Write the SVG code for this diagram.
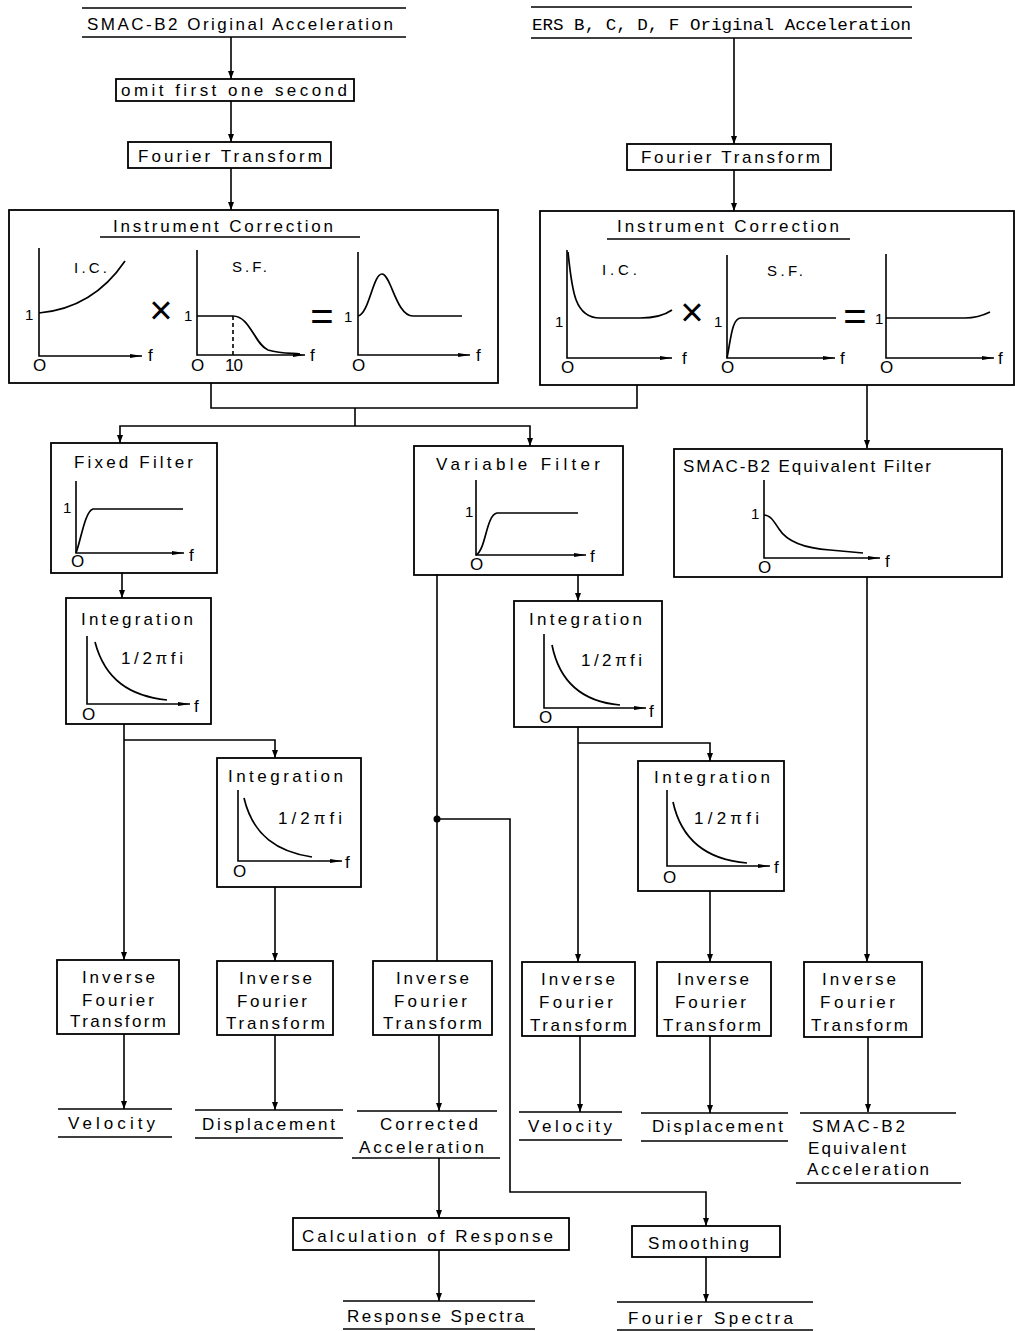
<svg xmlns="http://www.w3.org/2000/svg" width="1015" height="1331" viewBox="0 0 1015 1331">
<defs>
<marker id="arr" markerUnits="userSpaceOnUse" markerWidth="8" markerHeight="7" refX="8" refY="3.5" orient="auto"><path d="M0,0.5 L8,3.5 L0,6.5 z" fill="#000"/></marker>
<marker id="ax" markerUnits="userSpaceOnUse" markerWidth="12" markerHeight="6" refX="12" refY="3" orient="auto"><path d="M0,1 L12,3 L0,5 z" fill="#000"/></marker>
</defs>
<style>
text{font-family:"Liberation Sans",Arial,sans-serif;font-size:17px;fill:#000}
.m{font-family:"Liberation Mono","DejaVu Sans Mono",monospace;font-size:17px}
.s{font-size:15px}
.op{font-size:40px;font-weight:300}
.box{fill:none;stroke:#000;stroke-width:1.8}
.ln{fill:none;stroke:#000;stroke-width:1.6}
.ax{fill:none;stroke:#000;stroke-width:1.6;marker-end:url(#ax)}
.cv{fill:none;stroke:#000;stroke-width:1.7}
.c{fill:none;stroke:#000;stroke-width:1.6}
.ca{fill:none;stroke:#000;stroke-width:1.6;marker-end:url(#arr)}
</style>
<rect width="1015" height="1331" fill="#fff"/>

<g id="connectors">
<path class="ca" d="M231,37 V79"/>
<path class="ca" d="M231,101 V142"/>
<path class="ca" d="M231,168 V210"/>
<path class="ca" d="M734,38 V144"/>
<path class="ca" d="M734,170 V211"/>
<path class="c" d="M211,383 V408 H637 V385"/>
<path class="c" d="M355,408 V426"/>
<path class="ca" d="M355,426 H120 V443"/>
<path class="ca" d="M355,426 H530 V446"/>
<path class="ca" d="M867,385 V448"/>
<path class="ca" d="M122,573 V598"/>
<path class="ca" d="M124,724 V960"/>
<path class="ca" d="M124,740 H275 V758"/>
<path class="ca" d="M275,887 V961"/>
<path class="ca" d="M124,1034 V1109"/>
<path class="ca" d="M275,1035 V1110"/>
<path class="c" d="M437,574 V961"/>
<circle cx="437" cy="819" r="3.5" fill="#000"/>
<path class="ca" d="M437,819 H510 V1192 H706 V1226"/>
<path class="ca" d="M439,1035 V1111"/>
<path class="ca" d="M439,1158 V1218"/>
<path class="ca" d="M439,1250 V1301"/>
<path class="ca" d="M706,1257 V1302"/>
<path class="ca" d="M578,575 V601"/>
<path class="ca" d="M578,727 V962"/>
<path class="ca" d="M578,743 H710 V761"/>
<path class="ca" d="M710,891 V962"/>
<path class="ca" d="M867,577 V962"/>
<path class="ca" d="M580,1036 V1112"/>
<path class="ca" d="M710,1036 V1113"/>
<path class="ca" d="M868,1037 V1112"/>
</g>

<g id="n-smac-src">
<path class="ln" d="M82,8 H406 M82,37 H406"/>
<text x="87" y="30" textLength="306" lengthAdjust="spacing">SMAC-B2 Original Acceleration</text>
</g>
<g id="n-ers-src">
<path class="ln" d="M531,7 H912 M531,38 H912"/>
<text class="m" x="532" y="30" textLength="379" lengthAdjust="spacingAndGlyphs">ERS B, C, D, F Original Acceleration</text>
</g>
<g id="n-omit">
<rect class="box" x="116" y="79" width="238" height="22"/>
<text x="121" y="96" textLength="226" lengthAdjust="spacing">omit first one second</text>
</g>
<g id="n-ft-left">
<rect class="box" x="128" y="142" width="203" height="26"/>
<text x="138" y="162" textLength="184" lengthAdjust="spacing">Fourier Transform</text>
</g>
<g id="n-ft-right">
<rect class="box" x="627" y="144" width="204" height="26"/>
<text x="641" y="163" textLength="179" lengthAdjust="spacing">Fourier Transform</text>
</g>

<g id="n-ic-left">
<rect class="box" x="9" y="210" width="489" height="173"/>
<text x="113" y="232" textLength="220" lengthAdjust="spacing">Instrument Correction</text>
<path class="ln" d="M100,237 H360"/>
<path class="ax" d="M39,248 V356 H142"/>
<text x="148" y="361">f</text><text x="33" y="371">O</text><text class="s" x="25" y="320">1</text>
<path class="cv" d="M39,313 C72,310 102,295 125,261"/>
<text class="s" x="74" y="273" textLength="33" lengthAdjust="spacing">I.C.</text>
<text class="op" x="161" y="324" text-anchor="middle">×</text>
<path class="ax" d="M197,250 V355 H305"/>
<text x="310" y="361">f</text><text x="191" y="371">O</text><text x="225" y="371" textLength="18" lengthAdjust="spacing">10</text><text class="s" x="184" y="321">1</text>
<path class="cv" d="M197,316 H233 C250,316 255,345 268,350 C282,354 292,353 300,354"/>
<path class="ln" d="M233,316 V355" stroke-dasharray="4,3"/>
<text class="s" x="232" y="272" textLength="35" lengthAdjust="spacing">S.F.</text>
<text class="op" x="322" y="330" text-anchor="middle">=</text>
<path class="ax" d="M358,252 V355 H470"/>
<text x="476" y="361">f</text><text x="352" y="371">O</text><text class="s" x="344" y="322">1</text>
<path class="cv" d="M358,316 C369,314 373,274 382,274 C391,274 396,316 413,316 H462"/>
</g>

<g id="n-ic-right">
<rect class="box" x="540" y="211" width="474" height="174"/>
<text x="617" y="232" textLength="222" lengthAdjust="spacing">Instrument Correction</text>
<path class="ln" d="M607,239 H850"/>
<path class="ax" d="M567,250 V358 H672"/>
<text x="682" y="364">f</text><text x="561" y="373">O</text><text class="s" x="555" y="327">1</text>
<path class="cv" d="M568,252 C572,292 575,318 600,318 H640 C655,318 665,315 672,310"/>
<text class="s" x="602" y="275" textLength="35" lengthAdjust="spacing">I.C.</text>
<text class="op" x="692" y="326" text-anchor="middle">×</text>
<path class="ax" d="M727,255 V358 H835"/>
<text x="840" y="364">f</text><text x="721" y="373">O</text><text class="s" x="714" y="327">1</text>
<path class="cv" d="M727,358 C731,338 732,318 741,318 H836"/>
<text class="s" x="767" y="276" textLength="36" lengthAdjust="spacing">S.F.</text>
<text class="op" x="855" y="330" text-anchor="middle">=</text>
<path class="ax" d="M886,254 V358 H994"/>
<text x="998" y="364">f</text><text x="880" y="373">O</text><text class="s" x="875" y="324">1</text>
<path class="cv" d="M886,318 H965 C975,318 982,316 990,312"/>
</g>

<g id="n-fixed">
<rect class="box" x="51" y="443" width="166" height="130"/>
<text x="74" y="468" textLength="119" lengthAdjust="spacing">Fixed Filter</text>
<path class="ax" d="M76,481 V553 H184"/>
<text x="189" y="561">f</text><text x="71" y="567">O</text><text class="s" x="63" y="513">1</text>
<path class="cv" d="M76,553 C81,540 85,511 93,509 H183"/>
</g>
<g id="n-variable">
<rect class="box" x="414" y="446" width="209" height="129"/>
<text x="436" y="470" textLength="164" lengthAdjust="spacing">Variable Filter</text>
<path class="ax" d="M476,480 V555 H586"/>
<text x="590" y="562">f</text><text x="470" y="570">O</text><text class="s" x="465" y="517">1</text>
<path class="cv" d="M476,555 C486,550 486,515 497,513 H578"/>
</g>
<g id="n-smac-eq-filter">
<rect class="box" x="674" y="449" width="328" height="128"/>
<text x="683" y="472" textLength="248" lengthAdjust="spacing">SMAC-B2 Equivalent Filter</text>
<path class="ax" d="M764,480 V558 H880"/>
<text x="885" y="567">f</text><text x="758" y="573">O</text><text class="s" x="751" y="519">1</text>
<path class="cv" d="M764,515 C770,515 773,520 779,529 C786,540 800,548 830,550 L863,553"/>
</g>

<g id="n-int1">
<rect class="box" x="66" y="598" width="145" height="126"/>
<text x="81" y="625" textLength="112" lengthAdjust="spacing">Integration</text>
<path class="ax" d="M87,636 V704 H190"/>
<text x="194" y="712">f</text><text x="82" y="720">O</text>
<path class="cv" d="M95,642 C105,680 130,696 167,700"/>
<text x="121" y="664" textLength="62" lengthAdjust="spacing">1/2πfi</text>
</g>
<g id="n-int2">
<rect class="box" x="217" y="758" width="144" height="129"/>
<text x="228" y="782" textLength="115" lengthAdjust="spacing">Integration</text>
<path class="ax" d="M238,790 V861 H342"/>
<text x="345" y="868">f</text><text x="233" y="877">O</text>
<path class="cv" d="M244,798 C253,836 278,852 312,857"/>
<text x="278" y="824" textLength="64" lengthAdjust="spacing">1/2πfi</text>
</g>
<g id="n-int3">
<rect class="box" x="514" y="601" width="148" height="126"/>
<text x="529" y="625" textLength="113" lengthAdjust="spacing">Integration</text>
<path class="ax" d="M544,634 V708 H646"/>
<text x="649" y="717">f</text><text x="539" y="723">O</text>
<path class="cv" d="M552,645 C560,685 585,702 620,705"/>
<text x="581" y="666" textLength="61" lengthAdjust="spacing">1/2πfi</text>
</g>
<g id="n-int4">
<rect class="box" x="638" y="761" width="146" height="130"/>
<text x="654" y="783" textLength="116" lengthAdjust="spacing">Integration</text>
<path class="ax" d="M667,790 V866 H770"/>
<text x="774" y="873">f</text><text x="663" y="883">O</text>
<path class="cv" d="M673,802 C682,843 710,860 747,863"/>
<text x="694" y="824" textLength="65" lengthAdjust="spacing">1/2πfi</text>
</g>

<g id="n-ift1">
<rect class="box" x="57" y="960" width="122" height="74"/>
<text x="82" y="983" textLength="73" lengthAdjust="spacing">Inverse</text>
<text x="82" y="1006" textLength="72" lengthAdjust="spacing">Fourier</text>
<text x="70" y="1027" textLength="96" lengthAdjust="spacing">Transform</text>
</g>
<g id="n-ift2">
<rect class="box" x="217" y="961" width="116" height="74"/>
<text x="239" y="984" textLength="73" lengthAdjust="spacing">Inverse</text>
<text x="237" y="1007" textLength="70" lengthAdjust="spacing">Fourier</text>
<text x="226" y="1029" textLength="99" lengthAdjust="spacing">Transform</text>
</g>
<g id="n-ift3">
<rect class="box" x="373" y="961" width="119" height="74"/>
<text x="396" y="984" textLength="73" lengthAdjust="spacing">Inverse</text>
<text x="394" y="1007" textLength="73" lengthAdjust="spacing">Fourier</text>
<text x="383" y="1029" textLength="99" lengthAdjust="spacing">Transform</text>
</g>
<g id="n-ift4">
<rect class="box" x="522" y="962" width="113" height="74"/>
<text x="541" y="985" textLength="74" lengthAdjust="spacing">Inverse</text>
<text x="539" y="1008" textLength="74" lengthAdjust="spacing">Fourier</text>
<text x="530" y="1031" textLength="97" lengthAdjust="spacing">Transform</text>
</g>
<g id="n-ift5">
<rect class="box" x="657" y="962" width="114" height="74"/>
<text x="677" y="985" textLength="72" lengthAdjust="spacing">Inverse</text>
<text x="675" y="1008" textLength="71" lengthAdjust="spacing">Fourier</text>
<text x="663" y="1031" textLength="98" lengthAdjust="spacing">Transform</text>
</g>
<g id="n-ift6">
<rect class="box" x="804" y="962" width="118" height="75"/>
<text x="822" y="985" textLength="74" lengthAdjust="spacing">Inverse</text>
<text x="820" y="1008" textLength="75" lengthAdjust="spacing">Fourier</text>
<text x="811" y="1031" textLength="97" lengthAdjust="spacing">Transform</text>
</g>

<g id="n-vel-l">
<path class="ln" d="M58,1109 H172 M58,1137 H172"/>
<text x="68" y="1129" textLength="87" lengthAdjust="spacing">Velocity</text>
</g>
<g id="n-disp-l">
<path class="ln" d="M195,1110 H343 M195,1138 H343"/>
<text x="202" y="1130" textLength="133" lengthAdjust="spacing">Displacement</text>
</g>
<g id="n-corr">
<path class="ln" d="M357,1111 H497 M352,1158 H500"/>
<text x="380" y="1130" textLength="98" lengthAdjust="spacing">Corrected</text>
<text x="359" y="1153" textLength="125" lengthAdjust="spacing">Acceleration</text>
</g>
<g id="n-vel-r">
<path class="ln" d="M519,1112 H622 M519,1140 H622"/>
<text x="528" y="1132" textLength="84" lengthAdjust="spacing">Velocity</text>
</g>
<g id="n-disp-r">
<path class="ln" d="M641,1113 H788 M641,1141 H788"/>
<text x="652" y="1132" textLength="131" lengthAdjust="spacing">Displacement</text>
</g>
<g id="n-smac-eq-acc">
<path class="ln" d="M800,1113 H956 M796,1183 H961"/>
<text x="812" y="1132" textLength="93" lengthAdjust="spacing">SMAC-B2</text>
<text x="808" y="1154" textLength="98" lengthAdjust="spacing">Equivalent</text>
<text x="807" y="1175" textLength="122" lengthAdjust="spacing">Acceleration</text>
</g>
<g id="n-calc">
<rect class="box" x="293" y="1218" width="276" height="32"/>
<text x="302" y="1242" textLength="251" lengthAdjust="spacing">Calculation of Response</text>
</g>
<g id="n-resp">
<path class="ln" d="M343,1301 H535 M343,1329 H535"/>
<text x="347" y="1322" textLength="177" lengthAdjust="spacing">Response Spectra</text>
</g>
<g id="n-smooth">
<rect class="box" x="632" y="1226" width="148" height="31"/>
<text x="648" y="1249" textLength="101" lengthAdjust="spacing">Smoothing</text>
</g>
<g id="n-fourier-sp">
<path class="ln" d="M617,1302 H813 M617,1330 H813"/>
<text x="628" y="1324" textLength="165" lengthAdjust="spacing">Fourier Spectra</text>
</g>
</svg>
